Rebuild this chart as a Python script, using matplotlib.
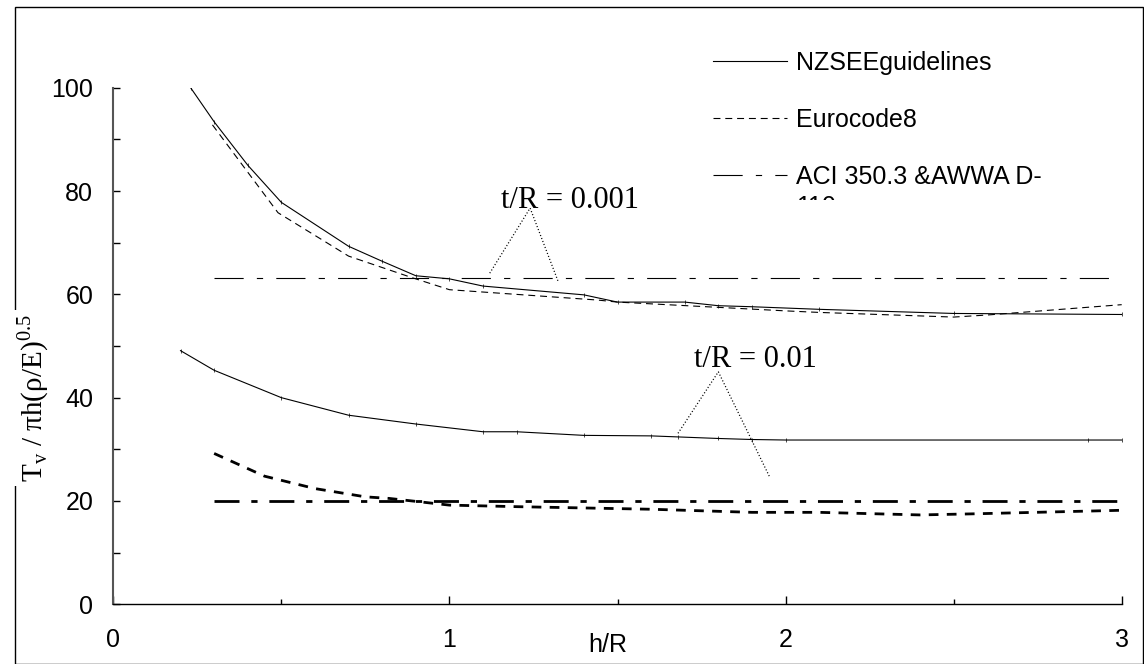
import matplotlib
matplotlib.use("Agg")
import matplotlib.pyplot as plt
from matplotlib.lines import Line2D
from matplotlib.patches import Rectangle
from matplotlib.ticker import MultipleLocator
from matplotlib.transforms import Bbox, TransformedBbox

plt.rcParams['font.family'] = ['Liberation Sans', 'DejaVu Sans']
plt.rcParams['lines.scale_dashes'] = False

# t/R = 0.001
nz1_x = [0.23, 0.30, 0.40, 0.50, 0.70, 0.80, 0.90, 1.00, 1.10, 1.40, 1.50, 1.70, 1.80, 1.90, 2.10, 2.50, 3.00]
nz1_y = [100.0, 93.4, 85.0, 77.8, 69.3, 66.4, 63.6, 63.0, 61.6, 59.9, 58.5, 58.5, 57.8, 57.6, 57.1, 56.3, 56.1]
ec1_x = [0.295, 0.49, 0.70, 0.89, 1.00, 1.33, 1.44, 1.50, 2.00, 2.10, 2.50, 2.60, 3.00]
ec1_y = [92.8, 75.8, 67.4, 63.2, 60.9, 59.4, 58.9, 58.5, 56.8, 56.5, 55.6, 56.0, 58.0]
aci1_x = [0.30, 3.00]
aci1_y = [63.1, 63.1]

# t/R = 0.01
nz2_x = [0.20, 0.30, 0.50, 0.70, 0.90, 1.10, 1.20, 1.40, 1.60, 1.68, 1.80, 1.90, 2.00, 2.90, 3.00]
nz2_y = [49.1, 45.3, 40.0, 36.6, 34.9, 33.4, 33.4, 32.7, 32.6, 32.4, 32.1, 31.9, 31.8, 31.8, 31.8]
ec2_x = [0.30, 0.45, 0.60, 0.75, 0.82, 1.00, 1.20, 1.60, 1.90, 2.10, 2.40, 2.55, 3.00]
ec2_y = [29.2, 24.8, 22.4, 20.8, 20.5, 19.2, 18.9, 18.4, 17.8, 17.8, 17.3, 17.5, 18.2]
aci2_x = [0.30, 3.00]
aci2_y = [20.0, 20.0]

# annotation leaders
ann1_x = [1.12, 1.24, 1.324]
ann1_y = [64.1, 76.7, 62.4]
ann2_x = [1.68, 1.80, 1.953]
ann2_y = [33.1, 45.0, 24.6]

labels = ['NZSEEguidelines', 'Eurocode8', 'ACI 350.3 &AWWA D-']

W, H = 1144, 664
fig = plt.figure(figsize=(W / 100, H / 100), dpi=100)
ax = fig.add_axes([113.3 / W, (H - 604.3) / H, (1121.7 - 113.3) / W, (604.3 - 87.7) / H])

thin = 0.8
solid = dict(color='black', lw=thin)
dash_thin = dict(color='black', lw=thin, dashes=(5, 3.5))
dashdot_thin = dict(color='black', lw=thin, dashes=(21, 9.5, 4.5, 9.5))

ax.plot(nz1_x, nz1_y, marker='|', ms=2.5, mew=0.5, **solid)
ax.plot(ec1_x, ec1_y, **dash_thin)
ax.plot(aci1_x, aci1_y, **dashdot_thin)
ax.plot(nz2_x, nz2_y, marker='|', ms=2.5, mew=0.5, **solid)
ax.plot(ec2_x, ec2_y, color='black', lw=2.0, dashes=(7, 6))
ax.plot(aci2_x, aci2_y, color='black', lw=2.0, dashes=(18, 8.5, 4.5, 8.5))

ax.plot(ann1_x, ann1_y, color='black', lw=0.9, dashes=(0.8, 1.5))
ax.plot(ann2_x, ann2_y, color='black', lw=0.9, dashes=(0.8, 1.5))

tfont = dict(family=['Liberation Serif', 'DejaVu Serif'], fontsize=22)
ax.text(1.36, 76.8, 't/R = 0.001', ha='center', va='baseline', **tfont)
ax.text(1.909, 46.0, 't/R = 0.01', ha='center', va='baseline', **tfont)

ax.set_xlim(0, 3)
ax.set_ylim(0, 100)
ax.xaxis.set_major_locator(MultipleLocator(1))
ax.xaxis.set_minor_locator(MultipleLocator(0.5))
ax.yaxis.set_major_locator(MultipleLocator(20))
ax.yaxis.set_minor_locator(MultipleLocator(10))
ax.tick_params(axis='both', which='both', direction='in', labelsize=18, width=1)
ax.tick_params(axis='x', which='major', length=5.5, pad=17)
ax.tick_params(axis='x', which='minor', length=3.6)
ax.tick_params(axis='y', which='both', length=5, pad=14.5)
ax.spines['top'].set_visible(False)
ax.spines['right'].set_visible(False)
ax.spines['left'].set_color('#555555')
ax.spines['left'].set_linewidth(1.5)
ax.spines['bottom'].set_linewidth(1)

ax.set_xlabel('h/R', fontsize=18)
ax.xaxis.set_label_coords(0.49, -0.055)

fig.text(33 / W, 1 - 398 / H, 'T$_\\mathregular{v}$ / πh(ρ/E)$^\\mathregular{0.5}$',
         rotation=90, ha='center', va='center',
         family=['Liberation Serif', 'DejaVu Serif'], fontsize=21,
         bbox=dict(fc='white', ec='none', pad=3))

handles = [Line2D([], [], **solid), Line2D([], [], **dash_thin), Line2D([], [], **dashdot_thin)]
leg = ax.legend(handles=handles, labels=labels, loc='upper left',
                bbox_to_anchor=(712.7 / W, 1 - 51 / H), bbox_transform=fig.transFigure,
                frameon=False, fontsize=18, handlelength=2.98, handletextpad=0.37,
                labelspacing=1.32, borderpad=0, borderaxespad=0)

t110 = fig.text(796.5 / W, 1 - 207 / H, '110', ha='left', va='center', fontsize=18)
t110.set_clip_box(TransformedBbox(Bbox([[0.6, 1 - 200 / H], [1.0, 1.0]]), fig.transFigure))
t110.set_clip_on(True)

fig.patches.append(Rectangle((14.7 / W, 0.5 / H), (1142.5 - 14.7) / W, (656.7 - 0.5) / H,
                             transform=fig.transFigure, fill=False, ec='black', lw=1, zorder=-1))

fig.savefig('out.png', dpi=100)
